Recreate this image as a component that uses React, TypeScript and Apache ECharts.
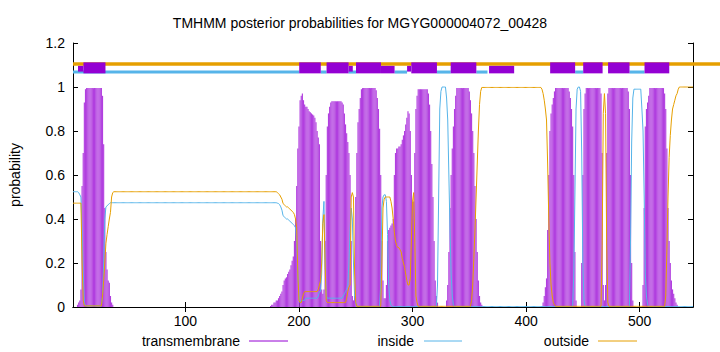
import React, { useEffect, useRef } from "react";
import * as echarts from "echarts";

const SEQ_LEN = 547;
const TITLE = "TMHMM posterior probabilities for MGYG000004072_00428";
const X_TICKS = [100, 200, 300, 400, 500];
const LEGEND_NAMES = ["transmembrane", "inside", "outside"];
const COLORS = { tm: "#9400d3", tmBar: "#b13fdf", inside: "#56b4e9", outside: "#e69f00" };

// Each segment: [startResidue, values...]; a value [v, n] means v repeated n times.
const TM_SEGMENTS: any[] = [
  [5, 0.01, 0.02, 0.03, 0.08, 0.55, 0.7, 0.93, 0.99, [0.995, 14], 0.96, 0.74, 0.45, 0.25, 0.17, 0.12, 0.11, 0.05, 0.02, 0.01],
  [175, 0.005, 0.01, 0.01, 0.02, 0.02, 0.03, 0.03, 0.04, 0.05, 0.06, 0.07, 0.1, 0.12, 0.13, 0.135, 0.15, 0.16, 0.17, 0.19, 0.21,
    0.23, 0.3, 0.4, 0.55, 0.72, 0.82, 0.94, 0.96, 0.97, 0.94, 0.92, 0.91, 0.91, 0.9, 0.89, 0.885, 0.88, 0.875, 0.87, 0.86,
    0.84, 0.8, 0.77, 0.74, 0.3, 0.08, 0.06, 0.08, 0.3, 0.6, 0.82, 0.88, 0.91, 0.93, [0.935, 9],
    0.93, 0.92, 0.88, 0.83, 0.79, 0.75, 0.7, 0.6, 0.3, 0.05, 0.03, 0.05, 0.5, 0.7, 0.84, 0.9, 0.95, 0.99, [0.995, 12],
    0.985, 0.95, 0.9, 0.81, 0.6, 0.3, 0.12, 0.04, 0.04, 0.1, 0.3, 0.35, 0.36, 0.37, 0.38, 0.4, 0.6, 0.7, 0.72, 0.72,
    0.73, 0.73, 0.74, 0.76, 0.78, 0.8, 0.83, 0.86, 0.89, 0.88, 0.8, 0.6, 0.48, 0.48, 0.7, 0.9, 0.96, [0.99, 9],
    0.97, 0.92, 0.8, 0.65, 0.5, 0.3, 0.12, 0.05, 0.02],
  [330, 0.03, 0.1, 0.25, 0.45, 0.6, 0.72, 0.82, 0.9, 0.96, [0.995, 11], 0.98, 0.94, 0.88, 0.8, 0.7, 0.55, 0.4, 0.25, 0.12, 0.05, 0.02, 0.01],
  [415, 0.02, 0.05, 0.09, 0.13, 0.35, 0.6, 0.8, 0.88, 0.92, 0.95, 0.98, [0.995, 12], 0.98, 0.95, 0.9, 0.82, 0.6, 0.25, 0.03],
  [449, 0.2, 0.6, 0.9, 0.97, [0.995, 13], 0.97, 0.7, 0.1, 0.03, 0.1, 0.7, 0.97, [0.995, 17], 0.98, 0.9, 0.6, 0.2, 0.03],
  [503, 0.1, 0.45, 0.82, 0.9, 0.93, 0.96, [0.995, 13], 0.97, 0.9, 0.72, 0.45, 0.3, 0.2, 0.12, 0.08, 0.06, 0.04, 0.02, 0.01],
];

const INSIDE_SEGMENTS: any[] = [
  [1, [0.524, 5], 0.52, 0.51, 0.5, 0.35, 0.15, 0.02, [0.005, 15], 0.05, 0.2, 0.4, 0.455, 0.46, 0.465, 0.47, [0.474, 147],
    0.472, 0.47, 0.465, 0.455, 0.44, 0.415, 0.41, 0.405, 0.4, 0.4, 0.395, 0.39, 0.385, 0.38, 0.375, 0.37, 0.36, 0.3, 0.15, 0.05, 0.02,
    [0.03, 4], [0.04, 11], 0.05, 0.07, 0.07, 0.15, 0.4, 0.48, 0.2, 0.05, [0.04, 14],
    0.05, 0.06, 0.07, 0.08, 0.1, 0.2, 0.35, 0.45, 0.4, 0.2, 0.05, 0.02],
  [272, 0.1, 0.45, 0.5, 0.51, 0.51, 0.48, 0.33, 0.1, 0.03, 0.01],
  [322, 0.1, 0.5, 0.9, 0.98, 1, 1, 1, 1, 0.95, 0.85, 0.6, 0.35, 0.15, 0.05, 0.01],
  [442, 0.15, 0.5, 0.9, 0.99, 1, 1, 0.98, 0.7, 0.2, 0.03],
  [492, 0.3, 0.75, 0.95, [0.99, 7], 0.9, 0.8, 0.5, 0.15, 0.05, 0.01],
];

const OUTSIDE_SEGMENTS: any[] = [
  [1, [0.472, 8], 0.2, 0.03, [0.005, 16], 0.05, 0.12, 0.2, 0.29, 0.33, 0.365, 0.4, 0.43, 0.5, 0.52, [0.524, 144],
    0.52, 0.515, 0.51, 0.5, 0.49, 0.47, 0.465, 0.46, 0.455, 0.455, 0.45, 0.445, 0.44, 0.435, 0.43, 0.42, 0.4, 0.36, 0.15, 0.03, 0.02, 0.02,
    0.04, 0.06, [0.07, 12], 0.08, 0.1, 0.12, 0.2, 0.38, 0.42, 0.2, 0.03, [0.02, 17],
    0.04, 0.07, 0.09, 0.1, 0.5, 0.52, 0.5, 0.15, 0.02],
  [273, 0.2, 0.45, 0.49, [0.5, 5], 0.48, 0.45, 0.4, 0.34, 0.3, 0.28, 0.27, 0.27, 0.26, 0.25, 0.22, 0.2, 0.18, 0.15, 0.12, 0.1, 0.1, 0.13,
    0.3, 0.48, 0.52, 0.3, 0.05, 0.02],
  [352, 0.03, 0.1, 0.22, 0.35, 0.5, 0.65, 0.8, 0.92, 0.98, [0.998, 53], 0.99, 0.97, 0.94, 0.9, 0.85, 0.65, 0.4, 0.2, 0.1, 0.05, 0.02, 0.01],
  [467, 0.28, 0.88, 0.97, 0.88, 0.28, 0.02],
  [523, 0.05, 0.26, 0.5, 0.68, 0.78, 0.85, 0.9, 0.92, 0.94, 0.96, 0.97, 0.99, [1, 13]],
];

// Top strip: predicted topology
const TOP_OUTSIDE = [[1, 571]];
const TOP_INSIDE = [[1, 200.2], [219.2, 224.3], [243.7, 250.2], [284.2, 295.2], [321.5, 333.6], [356.2, 366], [443.2, 450.3], [491.1, 504.3]];
const TOP_TM_FULL = [[10.2, 29.6], [200.2, 219.2], [224.3, 243.7], [250.2, 272.2], [298.9, 321.5], [333.6, 356.2], [421.2, 443.2], [450.3, 467.4], [472.2, 491.1], [504.3, 526.1]];
const TOP_TM_LOW = [[272.2, 284.2], [367.4, 389.5]];
const TOP_TM_THIN = [[5.4, 10.2], [243.7, 247.4], [295.2, 298.7]];

function expand(segments: any[], fallback: number): number[] {
  const arr = new Array(SEQ_LEN).fill(fallback);
  for (const seg of segments) {
    let pos = seg[0];
    for (let i = 1; i < seg.length; i++) {
      const it = seg[i];
      if (Array.isArray(it)) {
        for (let k = 0; k < it[1]; k++) { if (pos <= SEQ_LEN) arr[pos - 1] = it[0]; pos++; }
      } else { if (pos <= SEQ_LEN) arr[pos - 1] = it; pos++; }
    }
  }
  return arr;
}

const FONT = "'Liberation Sans', Arial, sans-serif";

export default function App() {
  const ref = useRef<HTMLDivElement>(null);
  useEffect(() => {
    if (!ref.current) return;
    const chart = echarts.init(ref.current, null, { renderer: "svg" });
    const tm = expand(TM_SEGMENTS, 0);
    const inside = expand(INSIDE_SEGMENTS, 0.002);
    const outside = expand(OUTSIDE_SEGMENTS, 0.003);
    const tmData = tm.map((v, i) => [i + 1, v]);
    const inData = inside.map((v, i) => [i + 1, v]);
    const outData = outside.map((v, i) => [i + 1, v]);

    const rectItem = (color: string) => (params: any, api: any) => {
      const p0 = api.coord([api.value(0), api.value(3)]);
      const p1 = api.coord([api.value(1), api.value(2)]);
      return { type: "rect", shape: { x: p0[0], y: p0[1], width: p1[0] - p0[0], height: p1[1] - p0[1] }, style: { fill: color } };
    };
    const custom = (data: number[][], color: string, z: number) => ({
      type: "custom", renderItem: rectItem(color), data, encode: { x: [0, 1], y: [2, 3] }, z, silent: true, clip: false,
    });

    const axisCommon = {
      type: "value",
      axisLine: { show: true, lineStyle: { color: "#000", width: 1 } },
      splitLine: { show: false },
    };

    const option: any = {
      animation: false,
      textStyle: { fontFamily: FONT },
      title: {
        text: TITLE, left: "center", top: 11,
        textStyle: { fontFamily: FONT, fontSize: 14, fontWeight: "normal", color: "#000" },
      },
      grid: { left: 73, right: 27, top: 43, bottom: 45, containLabel: false, outerBoundsMode: "none" },
      xAxis: [
        { ...axisCommon, position: "bottom", min: 1, max: SEQ_LEN,
          axisTick: { inside: true, length: 5, customValues: X_TICKS, lineStyle: { color: "#000" } },
          axisLabel: { customValues: X_TICKS, color: "#000", fontSize: 14, margin: 7, fontFamily: FONT } },
        { ...axisCommon, position: "top", min: 1, max: SEQ_LEN,
          axisTick: { inside: true, length: 5, customValues: X_TICKS, lineStyle: { color: "#000" } },
          axisLabel: { show: false } },
      ],
      yAxis: [
        { ...axisCommon, position: "left", min: 0, max: 1.2, interval: 0.2,
          axisTick: { inside: true, length: 5, lineStyle: { color: "#000" } },
          axisLabel: { color: "#000", fontSize: 14, margin: 8, fontFamily: FONT } },
        { ...axisCommon, position: "right", min: 0, max: 1.2, interval: 0.2,
          axisTick: { inside: true, length: 5, lineStyle: { color: "#000" } },
          axisLabel: { show: false } },
      ],
      series: [
        { type: "bar", name: "transmembrane", data: tmData, barWidth: 1.15, barGap: "-100%", itemStyle: { color: COLORS.tmBar }, z: 2, silent: true },
        { type: "line", name: "inside", data: inData, symbol: "none", lineStyle: { color: COLORS.inside, width: 1 }, z: 3, silent: true },
        { type: "line", name: "outside", data: outData, symbol: "none", lineStyle: { color: COLORS.outside, width: 1 }, z: 4, silent: true },
        custom(TOP_OUTSIDE.map(([a, b]) => [a, b, 1.097, 1.113]), COLORS.outside, 5),
        custom(TOP_INSIDE.map(([a, b]) => [a, b, 1.061, 1.075]), COLORS.inside, 6),
        custom(TOP_TM_FULL.map(([a, b]) => [a, b, 1.062, 1.112]), COLORS.tm, 7),
        custom(TOP_TM_LOW.map(([a, b]) => [a, b, 1.062, 1.096]), COLORS.tm, 7),
        custom(TOP_TM_THIN.map(([a, b]) => [a, b, 1.07, 1.096]), COLORS.tm, 7),
      ],
      graphic: [
        { type: "text", x: 15, y: 175, rotation: Math.PI / 2,
          style: { text: "probability", fontSize: 14, fontFamily: FONT, fill: "#000", textAlign: "center", textVerticalAlign: "middle" } },
        { type: "text", x: 240, y: 341, style: { text: LEGEND_NAMES[0], fontSize: 14, fontFamily: FONT, fill: "#000", textAlign: "right", textVerticalAlign: "middle" } },
        { type: "line", shape: { x1: 249, y1: 341, x2: 288, y2: 341 }, style: { stroke: COLORS.tm, lineWidth: 1 } },
        { type: "text", x: 414, y: 341, style: { text: LEGEND_NAMES[1], fontSize: 14, fontFamily: FONT, fill: "#000", textAlign: "right", textVerticalAlign: "middle" } },
        { type: "line", shape: { x1: 424, y1: 341, x2: 462, y2: 341 }, style: { stroke: COLORS.inside, lineWidth: 1 } },
        { type: "text", x: 589, y: 341, style: { text: LEGEND_NAMES[2], fontSize: 14, fontFamily: FONT, fill: "#000", textAlign: "right", textVerticalAlign: "middle" } },
        { type: "line", shape: { x1: 598, y1: 341, x2: 637, y2: 341 }, style: { stroke: COLORS.outside, lineWidth: 1 } },
      ],
    };
    chart.setOption(option);
    return () => chart.dispose();
  }, []);
  return <div ref={ref} style={{ position: "fixed", left: 0, top: 0, width: 720, height: 352, background: "#fff" }} />;
}
